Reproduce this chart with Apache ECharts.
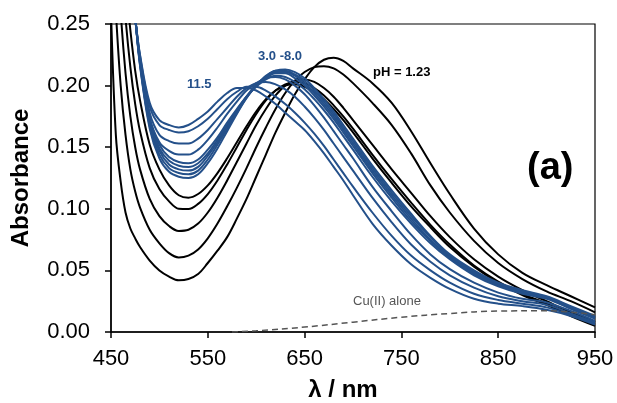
<!DOCTYPE html>
<html>
<head>
<meta charset="utf-8">
<script src="https://cdn.jsdelivr.net/npm/echarts@6/dist/echarts.min.js"></script>
<style>
  html, body { margin: 0; padding: 0; background: #fff; }
  #chart { width: 617px; height: 403px; }
</style>
</head>
<body>
<div id="chart"></div>
<script>
// wavelengths (nm) shared by all spectra
const wavelengths = [450, 455, 460, 465, 470, 475, 480, 490, 500, 510, 520, 530, 540, 550, 560, 570, 580, 590, 600, 610, 620, 630, 640, 650, 660, 670, 680, 690, 700, 720, 740, 760, 780, 800, 825, 850, 875, 900, 925, 950]

// acidic spectra (black), pH 1.23 upward
const acid1 = [0.26, 0.16, 0.122, 0.097, 0.084, 0.076, 0.069, 0.058, 0.050, 0.045, 0.042, 0.043, 0.047, 0.056, 0.066, 0.077, 0.092, 0.108, 0.126, 0.144, 0.162, 0.178, 0.193, 0.205, 0.215, 0.221, 0.2226, 0.220, 0.214, 0.202, 0.186, 0.163, 0.137, 0.112, 0.084, 0.063, 0.048, 0.038, 0.029, 0.020]
const acid2 = [0.33, 0.26, 0.20, 0.160, 0.132, 0.114, 0.101, 0.083, 0.072, 0.064, 0.0605, 0.062, 0.067, 0.076, 0.088, 0.102, 0.117, 0.133, 0.150, 0.166, 0.181, 0.194, 0.204, 0.211, 0.215, 0.2158, 0.214, 0.209, 0.202, 0.186, 0.168, 0.145, 0.119, 0.097, 0.074, 0.056, 0.043, 0.033, 0.025, 0.016]
const acid3 = [0.40, 0.33, 0.26, 0.21, 0.175, 0.150, 0.132, 0.108, 0.094, 0.086, 0.082, 0.083, 0.088, 0.097, 0.109, 0.123, 0.138, 0.153, 0.168, 0.181, 0.192, 0.200, 0.204, 0.205, 0.203, 0.198, 0.191, 0.182, 0.172, 0.152, 0.132, 0.113, 0.094, 0.077, 0.059, 0.045, 0.034, 0.025, 0.016, 0.008]
const acid4 = [0.45, 0.38, 0.31, 0.255, 0.215, 0.185, 0.163, 0.133, 0.116, 0.106, 0.100, 0.0998, 0.104, 0.112, 0.123, 0.136, 0.150, 0.164, 0.177, 0.188, 0.196, 0.201, 0.203, 0.202, 0.198, 0.192, 0.184, 0.175, 0.165, 0.144, 0.124, 0.105, 0.087, 0.071, 0.054, 0.041, 0.031, 0.023, 0.014, 0.006]
const acid5 = [0.48, 0.41, 0.34, 0.285, 0.245, 0.212, 0.188, 0.152, 0.132, 0.119, 0.111, 0.109, 0.112, 0.119, 0.129, 0.141, 0.154, 0.167, 0.179, 0.189, 0.196, 0.200, 0.201, 0.199, 0.195, 0.189, 0.181, 0.172, 0.162, 0.141, 0.121, 0.102, 0.085, 0.069, 0.053, 0.040, 0.030, 0.022, 0.013, 0.005]

// spectra from pH 3.0 up to 11.5 (blue)
const mid1 = [0.55, 0.47, 0.40, 0.34, 0.292, 0.255, 0.220, 0.173, 0.152, 0.142, 0.138, 0.137, 0.140, 0.148, 0.158, 0.170, 0.181, 0.191, 0.199, 0.205, 0.208, 0.207, 0.203, 0.197, 0.189, 0.180, 0.170, 0.159, 0.148, 0.126, 0.106, 0.088, 0.072, 0.059, 0.046, 0.037, 0.031, 0.027, 0.019, 0.011]
const mid2 = [0.55, 0.47, 0.40, 0.34, 0.292, 0.255, 0.219, 0.171, 0.149, 0.139, 0.135, 0.134, 0.137, 0.145, 0.156, 0.168, 0.180, 0.191, 0.200, 0.206, 0.210, 0.210, 0.206, 0.200, 0.192, 0.183, 0.173, 0.162, 0.151, 0.129, 0.109, 0.090, 0.074, 0.060, 0.047, 0.038, 0.032, 0.028, 0.019, 0.011]
const mid3 = [0.55, 0.47, 0.40, 0.34, 0.292, 0.255, 0.218, 0.169, 0.147, 0.136, 0.132, 0.131, 0.134, 0.143, 0.154, 0.167, 0.179, 0.191, 0.201, 0.207, 0.211, 0.211, 0.208, 0.202, 0.194, 0.185, 0.175, 0.164, 0.153, 0.131, 0.111, 0.092, 0.075, 0.061, 0.048, 0.038, 0.032, 0.028, 0.020, 0.012]
const mid4 = [0.55, 0.47, 0.40, 0.34, 0.292, 0.255, 0.217, 0.167, 0.144, 0.133, 0.129, 0.128, 0.131, 0.140, 0.152, 0.165, 0.178, 0.190, 0.200, 0.207, 0.212, 0.212, 0.209, 0.204, 0.196, 0.187, 0.177, 0.166, 0.155, 0.133, 0.113, 0.094, 0.077, 0.062, 0.049, 0.039, 0.033, 0.028, 0.020, 0.012]
const mid5 = [0.55, 0.47, 0.40, 0.34, 0.292, 0.255, 0.216, 0.165, 0.141, 0.130, 0.126, 0.125, 0.128, 0.137, 0.149, 0.163, 0.177, 0.190, 0.200, 0.208, 0.212, 0.213, 0.211, 0.206, 0.198, 0.189, 0.179, 0.168, 0.157, 0.135, 0.115, 0.096, 0.078, 0.063, 0.050, 0.040, 0.034, 0.029, 0.021, 0.013]
const basic1 = [0.55, 0.47, 0.40, 0.34, 0.292, 0.255, 0.220, 0.174, 0.154, 0.147, 0.144, 0.144, 0.148, 0.156, 0.166, 0.177, 0.187, 0.196, 0.202, 0.206, 0.207, 0.205, 0.200, 0.193, 0.184, 0.174, 0.163, 0.152, 0.141, 0.118, 0.098, 0.079, 0.063, 0.051, 0.040, 0.032, 0.027, 0.024, 0.017, 0.009]
const basic2 = [0.55, 0.47, 0.40, 0.34, 0.292, 0.255, 0.222, 0.178, 0.160, 0.155, 0.153, 0.153, 0.157, 0.164, 0.173, 0.182, 0.191, 0.198, 0.202, 0.203, 0.201, 0.197, 0.191, 0.183, 0.174, 0.164, 0.153, 0.142, 0.131, 0.109, 0.089, 0.071, 0.057, 0.046, 0.036, 0.029, 0.025, 0.022, 0.015, 0.008]
const basic3 = [0.55, 0.47, 0.40, 0.34, 0.292, 0.255, 0.224, 0.183, 0.168, 0.164, 0.162, 0.163, 0.167, 0.173, 0.181, 0.189, 0.195, 0.199, 0.199, 0.196, 0.191, 0.185, 0.178, 0.170, 0.161, 0.151, 0.140, 0.129, 0.118, 0.097, 0.078, 0.062, 0.050, 0.040, 0.031, 0.026, 0.023, 0.020, 0.014, 0.007]
const basic4 = [0.55, 0.47, 0.40, 0.34, 0.292, 0.255, 0.225, 0.186, 0.172, 0.168, 0.166, 0.168, 0.173, 0.179, 0.187, 0.194, 0.198, 0.198, 0.196, 0.191, 0.185, 0.178, 0.171, 0.164, 0.155, 0.145, 0.134, 0.123, 0.111, 0.088, 0.070, 0.055, 0.044, 0.035, 0.027, 0.023, 0.021, 0.018, 0.013, 0.006]

// Cu(II) alone (dashed)
const cuWavelengths = [575, 600, 650, 700, 750, 800, 850, 900, 950]
const cuAlone = [0.0, 0.001, 0.004, 0.008, 0.012, 0.015, 0.017, 0.0172, 0.014]

const xTicks = [450, 550, 650, 750, 850, 950]
const yTicks = [0, 0.05, 0.10, 0.15, 0.20, 0.25]

const acidSpectra = [acid1, acid2, acid3, acid4, acid5]
const blueSpectra = [mid1, mid2, mid3, mid4, mid5, basic1, basic2, basic3, basic4]

const BLUE = '#24508a'
const FONT = 'Liberation Sans, Arial, sans-serif'

const chart = echarts.init(document.getElementById('chart'))

function spectrum(values, color) {
  return {
    type: 'line',
    data: wavelengths.map((w, i) => [w, values[i]]),
    showSymbol: false,
    smooth: 0.35,
    clip: true,
    lineStyle: { color: color, width: 2 },
    silent: true,
  }
}

const series = []
acidSpectra.forEach((s) => series.push(spectrum(s, '#000')))
blueSpectra.forEach((s) => series.push(spectrum(s, BLUE)))
series.push({
  type: 'line',
  data: cuWavelengths.map((w, i) => [w, cuAlone[i]]),
  showSymbol: false,
  smooth: 0.4,
  lineStyle: { color: '#555', width: 1.5, type: [6, 4] },
  silent: true,
})

chart.setOption({
  animation: false,
  grid: {
    left: 111, right: 22, top: 24, bottom: 71,
    containLabel: false,
    outerBoundsMode: 'none',
    show: true, borderColor: '#000', borderWidth: 1.2,
  },
  xAxis: {
    type: 'value',
    min: xTicks[0],
    max: xTicks[xTicks.length - 1],
    interval: 100,
    axisLine: { lineStyle: { color: '#000', width: 1.5 } },
    axisTick: { show: true, inside: false, length: 6, lineStyle: { color: '#000', width: 1.5 } },
    axisLabel: { color: '#000', fontSize: 22, fontFamily: FONT, margin: 16 },
    splitLine: { show: false },
    name: 'λ / nm',
    nameLocation: 'middle',
    nameGap: 46,
    nameTextStyle: { color: '#000', fontSize: 24, fontWeight: 'bold', fontFamily: FONT, padding: [0, 20, 0, 0] },
  },
  yAxis: {
    type: 'value',
    min: yTicks[0],
    max: yTicks[yTicks.length - 1],
    interval: 0.05,
    axisLine: { show: true, lineStyle: { color: '#000', width: 1.5 } },
    axisTick: { show: true, inside: false, length: 6, lineStyle: { color: '#000', width: 1.5 } },
    axisLabel: { color: '#000', fontSize: 22, fontFamily: FONT, margin: 21, formatter: (v) => v.toFixed(2) },
    splitLine: { show: false },
    name: 'Absorbance',
    nameLocation: 'middle',
    nameGap: 78,
    nameTextStyle: { color: '#000', fontSize: 24, fontWeight: 'bold', fontFamily: FONT },
  },
  graphic: [
    { type: 'text', left: 187, top: 78, style: { text: '11.5', fill: BLUE, font: 'bold 13px ' + FONT } },
    { type: 'text', left: 258, top: 50, style: { text: '3.0 -8.0', fill: BLUE, font: 'bold 13px ' + FONT } },
    { type: 'text', left: 373, top: 66, style: { text: 'pH = 1.23', fill: '#000', font: 'bold 13px ' + FONT } },
    { type: 'text', left: 527, top: 150, style: { text: '(a)', fill: '#000', font: 'bold 38px ' + FONT } },
    { type: 'text', left: 353, top: 295, style: { text: 'Cu(II) alone', fill: '#555', font: '13px ' + FONT } },
  ],
  series: series,
})
</script>
</body>
</html>
